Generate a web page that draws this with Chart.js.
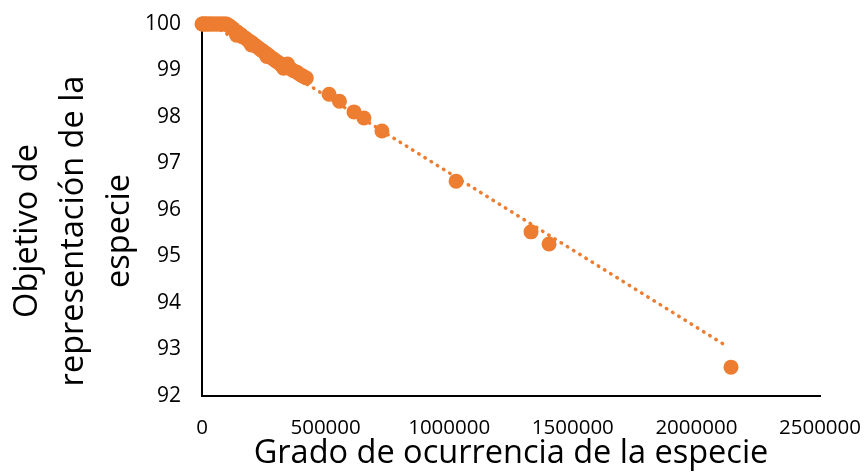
<!DOCTYPE html>
<html>
<head>
<meta charset="utf-8">
<style>
  html, body { margin: 0; padding: 0; background: #ffffff; }
  #wrap { width: 865px; height: 472px; position: relative; }
</style>
<script src="https://cdn.jsdelivr.net/npm/chart.js@4/dist/chart.umd.min.js"></script>
</head>
<body>
<div id="wrap"><canvas id="c" width="865" height="472"></canvas></div>
<script>
// Grado de ocurrencia de la especie (x) and Objetivo de representación (y)
const occurrence = [
  0, 4000, 8000, 12000, 17000, 22000, 27000, 33000, 39000, 45000, 52000, 58000, 64000, 71000, 78000, 85000, 92000, 99000,
  108000, 116000, 125000, 133000, 142000, 150000, 158000, 167000, 175000, 184000, 192000, 201000, 210000, 219000,
  228000, 237000, 246000, 255000, 264000, 273000, 282000, 291000, 300000, 310000, 320000, 333000, 346000, 355000,
  368000, 382000, 395000, 408000, 422000,
  200000, 262000, 330000, 140000,
  514000, 556000, 615000, 655000, 728000, 1028000, 1331000, 1404000, 2140000
];
const target = [
  100, 100, 100, 100, 100, 100, 100, 100, 100, 100, 100, 100, 100, 100, 100, 100, 100, 100,
  99.97, 99.94, 99.90, 99.86, 99.83, 99.79, 99.77, 99.72, 99.70, 99.66, 99.62, 99.60, 99.56, 99.52,
  99.49, 99.45, 99.42, 99.38, 99.35, 99.31, 99.27, 99.24, 99.20, 99.17, 99.12, 99.08, 99.14, 99.05,
  99.00, 98.97, 98.92, 98.88, 98.84,
  99.55, 99.30, 99.05, 99.76,
  98.49, 98.34, 98.11, 97.98, 97.70, 96.62, 95.53, 95.27, 92.62
];
// Linear trend line endpoints
const trendX = [0, 2120000];
const trendY = [100.12, 93.08];

const xTicks = [0, 500000, 1000000, 1500000, 2000000, 2500000];
const yTicks = [92, 93, 94, 95, 96, 97, 98, 99, 100];

const xTitle = 'Grado de ocurrencia de la especie';
const yTitleLines = ['Objetivo de', 'representación de la', 'especie'];

const orange = '#ED7D31';
const FONT = '"Open Sans", "Liberation Sans", sans-serif';

const points = occurrence.map((x, i) => ({ x: x, y: target[i] }));
const trend = trendX.map((x, i) => ({ x: x, y: trendY[i] }));

// Draws the three-line vertical y-axis title (real text on the canvas)
const yTitlePlugin = {
  id: 'yTitle',
  afterDraw(chart) {
    const ctx = chart.ctx;
    const size = 32.5;
    const lh = 46;
    const cy = 231;
    ctx.save();
    ctx.fillStyle = '#000000';
    ctx.font = size + 'px ' + FONT;
    ctx.textAlign = 'center';
    ctx.textBaseline = 'middle';
    yTitleLines.forEach((line, i) => {
      ctx.save();
      ctx.translate(28 + i * lh, cy);
      ctx.rotate(-Math.PI / 2);
      ctx.fillText(line, 0, 0);
      ctx.restore();
    });
    ctx.restore();
  }
};

new Chart(document.getElementById('c'), {
  type: 'scatter',
  data: {
    datasets: [
      {
        label: 'Objetivo',
        data: points,
        backgroundColor: orange,
        borderColor: orange,
        pointRadius: 7.5,
        pointHoverRadius: 7.5,
        borderWidth: 0,
        clip: false,
        order: 1
      },
      {
        label: 'Tendencia',
        type: 'line',
        data: trend,
        borderColor: orange,
        borderWidth: 3.5,
        borderDash: [0.5, 6.8],
        borderCapStyle: 'round',
        pointRadius: 0,
        fill: false,
        clip: false,
        order: 2
      }
    ]
  },
  plugins: [yTitlePlugin],
  options: {
    responsive: false,
    animation: false,
    events: [],
    layout: { padding: { top: 24, right: 45, left: 0, bottom: 0 } },
    plugins: { legend: { display: false }, tooltip: { enabled: false } },
    scales: {
      x: {
        type: 'linear',
        min: 0,
        max: 2500000,
        afterBuildTicks: (s) => { s.ticks = xTicks.map(v => ({ value: v })); },
        afterFit: (s) => { s.height = 76; s.paddingLeft = 0; s.paddingRight = 0; },
        grid: { display: false, drawTicks: false },
        border: { display: true, color: '#000000', width: 2 },
        ticks: {
          color: '#000000',
          font: { family: FONT, size: 20.5 },
          padding: 20,
          maxRotation: 0,
          callback: (v) => String(v)
        },
        title: {
          display: true,
          text: xTitle,
          color: '#000000',
          font: { family: FONT, size: 32.5, lineHeight: 1.1 },
          padding: { top: 0, bottom: 0 }
        }
      },
      y: {
        type: 'linear',
        min: 92,
        max: 100,
        afterBuildTicks: (s) => { s.ticks = yTicks.map(v => ({ value: v })); },
        afterFit: (s) => { s.width = 202; s.paddingTop = 0; s.paddingBottom = 0; },
        grid: { display: false, drawTicks: false },
        border: { display: true, color: '#000000', width: 2 },
        ticks: {
          color: '#000000',
          font: { family: FONT, size: 21 },
          padding: 21,
          callback: (v) => String(v)
        },
        title: { display: false }
      }
    }
  }
});
</script>
</body>
</html>
